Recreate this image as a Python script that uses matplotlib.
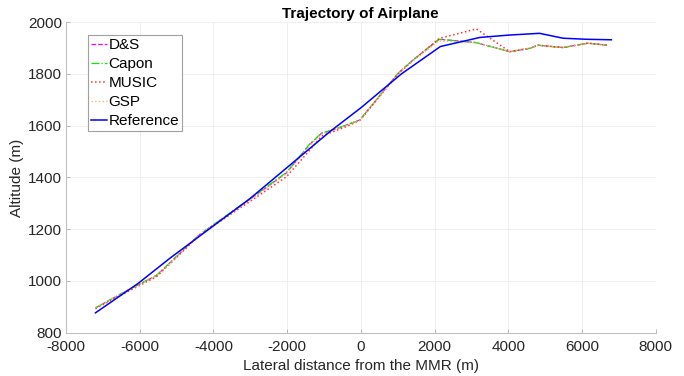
import matplotlib
matplotlib.use('Agg')
import matplotlib.pyplot as plt

plt.rcParams['font.family'] = ['Liberation Sans', 'DejaVu Sans']
plt.rcParams['axes.unicode_minus'] = False

# ------------------------------------------------------------------------
# trajectory data (lateral distance, altitude)
ref_x = [-7200, -6040, -5180, -3010, -841, 0, 1100, 2160, 3230, 4000, 4850, 5490, 6120, 6800]
ref_y = [877, 991, 1088, 1318, 1577, 1669, 1800, 1906, 1941, 1950, 1957, 1938, 1934, 1932]

est_x = [-7200, -6450, -5540, -4370, -2740, -2016, -1383, -1066, -746, -388, -27,
         1012, 1419, 2124, 3137, 4041, 4583, 4809, 5486, 6165, 6680]

ds_y    = [896, 955, 1022, 1180, 1343, 1418, 1528, 1571, 1584, 1603, 1622,
           1803, 1854, 1934, 1921, 1886, 1899, 1911, 1902, 1919, 1911]
capon_y = [896, 955, 1022, 1180, 1345, 1420, 1530, 1571, 1584, 1603, 1622,
           1803, 1854, 1934, 1921, 1886, 1899, 1911, 1902, 1919, 1911]
music_y = [893, 950, 1017, 1178, 1333, 1403, 1506, 1560, 1577, 1597, 1620,
           1800, 1852, 1937, 1974, 1886, 1899, 1911, 1902, 1919, 1911]
gsp_y   = [897, 954, 1020, 1180, 1340, 1415, 1525, 1568, 1582, 1601, 1621,
           1802, 1852, 1928, 1920, 1887, 1900, 1910, 1903, 1918, 1912]

xticks = [-8000, -6000, -4000, -2000, 0, 2000, 4000, 6000, 8000]
yticks = [800, 1000, 1200, 1400, 1600, 1800, 2000]

# ------------------------------------------------------------------------
fig = plt.figure(figsize=(6.84, 3.76), dpi=100)
ax = fig.add_axes([0.0965, 0.115, 0.862, 0.826])

ax.plot(est_x, ds_y, color='#ff00ff', ls='--', lw=0.9, label='D&S')
ax.plot(est_x, capon_y, color='#00ee00', ls='-.', lw=0.9, label='Capon')
ax.plot(est_x, music_y, color='#ff3030', ls=':', lw=1.1, label='MUSIC')
ax.plot(est_x, gsp_y, color='#ffb070', ls=':', lw=1.0, label='GSP')
ax.plot(ref_x, ref_y, color='#0000ff', ls='-', lw=1.1, label='Reference')

ax.set_xlim(-8000, 8000)
ax.set_ylim(800, 2000)
ax.set_xticks(xticks)
ax.set_yticks(yticks)
ax.tick_params(direction='in', length=3, width=0.6, color='#b0b0b0',
               labelsize=11, labelcolor='#262626')
ax.tick_params(axis='x', pad=5)
ax.tick_params(axis='y', pad=3)
ax.grid(True, color='#ececec', lw=0.6)
ax.set_axisbelow(True)
for s in ['top', 'right']:
    ax.spines[s].set_visible(False)
for s in ['left', 'bottom']:
    ax.spines[s].set_color('#c0c0c0')
    ax.spines[s].set_linewidth(0.8)

ax.set_xlabel('Lateral distance from the MMR (m)', fontsize=11, color='#262626', labelpad=4)
ax.set_ylabel('Altitude (m)', fontsize=11, color='#262626', labelpad=3)
ax.set_title('Trajectory of Airplane', fontsize=11, fontweight='bold', pad=3)

leg = ax.legend(loc='upper left', bbox_to_anchor=(0.037, 0.959), fontsize=11,
                handlelength=1.05, handletextpad=0.1, borderpad=0.2,
                labelspacing=0.33, borderaxespad=0, fancybox=False, framealpha=1)
leg.get_frame().set_edgecolor('#a0a0a0')
leg.get_frame().set_linewidth(0.8)

fig.savefig('out.png', dpi=100)
